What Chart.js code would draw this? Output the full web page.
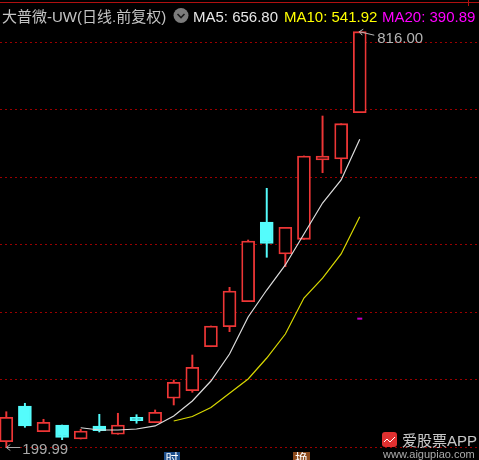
<!DOCTYPE html>
<html>
<head>
<meta charset="utf-8">
<script src="https://cdn.jsdelivr.net/npm/chart.js@4/dist/chart.umd.min.js"></script>
<style>
  html, body { margin: 0; padding: 0; background: #000; overflow: hidden; }
  canvas { display: block; }
</style>
</head>
<body>
<canvas id="kline" width="479" height="460"></canvas>
<script>
// daily candles, oldest first
const dayIndex = [0, 1, 2, 3, 4, 5, 6, 7, 8, 9, 10, 11, 12, 13, 14, 15, 16, 17, 18, 19];
const opens  = [208.6, 261.5, 223.4, 233.3, 212.6, 231.9, 219.6, 244.7, 236.7, 272.9, 284.1, 349.3, 379.0, 416.0, 534.1, 486.7, 508.4, 625.9, 627.4, 696.0];
const closes = [244.7, 231.9, 237.3, 215.1, 224.4, 224.9, 233.3, 239.7, 252.1, 296.6, 318.8, 380.0, 431.9, 505.9, 502.5, 526.2, 631.9, 631.9, 679.7, 816.0];
const highs  = [253.0, 265.5, 241.8, 233.3, 227.0, 249.2, 250.7, 248.6, 255.6, 300.0, 337.0, 380.0, 437.3, 507.4, 584.0, 526.2, 631.9, 691.1, 679.7, 816.0];
const lows   = [199.99, 229.9, 223.4, 211.6, 212.6, 223.0, 219.6, 235.9, 236.7, 263.0, 281.8, 349.3, 371.6, 416.0, 481.8, 467.9, 508.4, 607.1, 606.2, 696.0];

// moving averages (start index + values)
const ma5Start = 4;
const ma5 = [229.3, 225.9, 225.9, 227.4, 231.9, 246.7, 268.9, 298.5, 338.5, 393.3, 433.3, 470.4, 516.3, 562.2, 596.3, 656.8];
const ma10Start = 9;
const ma10 = [239.3, 245.9, 259.3, 280.3, 301.5, 332.6, 368.1, 421.5, 450.8, 486.7, 541.92];
const ma20Start = 19;
const ma20 = [390.89];

const gridValues = [200, 300, 400, 500, 600, 700, 800];
const title = '大普微-UW(日线.前复权)';
const maLabels = ['MA5: 656.80', 'MA10: 541.92', 'MA20: 390.89'];
const highLabel = '816.00';
const lowLabel = '199.99';

const UP = '#ee3636';
const DOWN = '#54fcfc';
const FONT = '"Liberation Sans", "Noto Sans CJK SC", sans-serif';

const isUp = dayIndex.map(i => closes[i] >= opens[i]);

function series(start, vals) {
    return vals.map((v, k) => ({ x: start + k, y: v }));
}

const overlay = {
    id: 'overlay',
    afterDraw(chart) {
        const c = chart.ctx;
        const xs = chart.scales.x;
        const ys = chart.scales.y;
        c.save();

        // frame line at the top
        c.fillStyle = '#b01010';
        c.fillRect(0, 2, 479, 1);
        c.fillRect(468, 0, 1, 6);

        // header
        c.font = '15px ' + FONT;
        c.textBaseline = 'alphabetic';
        c.fillStyle = '#c4c4c4';
        c.fillText(title, 2, 22);
        // dropdown circle
        c.fillStyle = '#7c7c7c';
        c.beginPath();
        c.arc(181, 15.5, 7.5, 0, Math.PI * 2);
        c.fill();
        c.strokeStyle = '#1a1a1a';
        c.lineWidth = 1.6;
        c.beginPath();
        c.moveTo(177.5, 14);
        c.lineTo(181, 17.5);
        c.lineTo(184.5, 14);
        c.stroke();
        c.fillStyle = '#e6e6e6';
        c.fillText(maLabels[0], 193, 22);
        c.fillStyle = '#ffff00';
        c.fillText(maLabels[1], 284, 22);
        c.fillStyle = '#ff00ff';
        c.fillText(maLabels[2], 382, 22);

        // highest price marker
        const hi = highs.indexOf(Math.max(...highs));
        const hx = xs.getPixelForValue(hi) - 0.5;
        const hy = ys.getPixelForValue(highs[hi]);
        c.strokeStyle = '#b4b4b4';
        c.lineWidth = 1;
        c.beginPath();
        c.moveTo(hx + 15, hy + 3.5);
        c.lineTo(hx, hy);
        c.moveTo(hx + 4, hy - 2.5);
        c.lineTo(hx, hy);
        c.lineTo(hx + 3, hy + 3.5);
        c.stroke();
        c.fillStyle = '#b4b4b4';
        c.font = '15px ' + FONT;
        c.fillText(highLabel, hx + 18, hy + 11.5);

        // lowest price marker
        const lo = lows.indexOf(Math.min(...lows));
        const lx = xs.getPixelForValue(lo);
        const ly = ys.getPixelForValue(lows[lo]);
        c.strokeStyle = '#a8a8a8';
        c.beginPath();
        c.moveTo(lx + 14, ly);
        c.lineTo(lx, ly);
        c.moveTo(lx + 4, ly - 3);
        c.lineTo(lx, ly);
        c.lineTo(lx + 4, ly + 3);
        c.stroke();
        c.fillStyle = '#a8a8a8';
        c.fillText(lowLabel, lx + 16, ly + 6.5);

        // event markers at the bottom edge
        c.font = '13px ' + FONT;
        c.textBaseline = 'top';
        c.fillStyle = '#1d4f8c';
        c.fillRect(164, 452, 16, 8);
        c.fillStyle = '#ffffff';
        c.fillText('时', 165.5, 453);
        c.fillStyle = '#8c4a1c';
        c.fillRect(293, 452, 17, 8);
        c.fillStyle = '#ffffff';
        c.fillText('换', 295, 453);

        // watermark
        c.fillStyle = '#e03030';
        c.beginPath();
        c.roundRect(382, 432, 15, 15, 3);
        c.fill();
        c.strokeStyle = '#ffffff';
        c.lineWidth = 1;
        c.beginPath();
        c.moveTo(384, 442);
        c.lineTo(387, 439);
        c.lineTo(390, 442);
        c.lineTo(395, 437);
        c.stroke();
        c.textBaseline = 'alphabetic';
        c.font = '15px ' + FONT;
        c.fillStyle = 'rgba(235,235,235,0.85)';
        c.fillText('爱股票APP', 402, 446);
        c.font = '11px ' + FONT;
        c.fillStyle = 'rgba(200,200,200,0.85)';
        c.fillText('www.aigupiao.com', 383, 458);

        c.restore();
    }
};

new Chart(document.getElementById('kline').getContext('2d'), {
    type: 'bar',
    data: {
        datasets: [
            {
                type: 'bar',
                label: 'wick',
                data: dayIndex.map(i => ({ x: i, y: [lows[i], highs[i]] })),
                backgroundColor: dayIndex.map(i => isUp[i] ? UP : DOWN),
                borderWidth: 0,
                barThickness: 1.3,
                grouped: false,
                order: 4
            },
            {
                type: 'bar',
                label: 'body',
                data: dayIndex.map(i => ({ x: i, y: [opens[i], closes[i]] })),
                backgroundColor: dayIndex.map(i => isUp[i] ? '#000000' : DOWN),
                borderColor: dayIndex.map(i => isUp[i] ? UP : DOWN),
                borderWidth: 1.8,
                borderSkipped: false,
                barThickness: 13,
                grouped: false,
                order: 3
            },
            {
                type: 'line',
                label: 'MA5',
                data: series(ma5Start, ma5),
                borderColor: '#dcdcdc',
                borderWidth: 1.2,
                pointRadius: 0,
                tension: 0,
                order: 2
            },
            {
                type: 'line',
                label: 'MA10',
                data: series(ma10Start, ma10),
                borderColor: '#d8d800',
                borderWidth: 1.2,
                pointRadius: 0,
                tension: 0,
                order: 1
            },
            {
                type: 'line',
                label: 'MA20',
                data: series(ma20Start, ma20),
                borderColor: '#c000c0',
                showLine: false,
                pointStyle: 'line',
                pointRadius: 2.5,
                pointBorderWidth: 2,
                pointBorderColor: '#c000c0',
                order: 0
            }
        ]
    },
    options: {
        responsive: false,
        animation: false,
        layout: { padding: 0, autoPadding: false },
        plugins: {
            legend: { display: false },
            tooltip: { enabled: false }
        },
        scales: {
            x: {
                type: 'linear',
                min: -0.339,
                max: 25.41,
                offset: false,
                display: false
            },
            y: {
                type: 'linear',
                min: 181.48,
                max: 862.96,
                ticks: { display: false },
                grid: { color: '#9a0000', lineWidth: 1, drawTicks: false, tickLength: 0 },
                border: { display: false, dash: [2, 3] },
                afterBuildTicks: scale => {
                    scale.ticks = gridValues.map(v => ({ value: v }));
                }
            }
        }
    },
    plugins: [overlay]
});
</script>
</body>
</html>
